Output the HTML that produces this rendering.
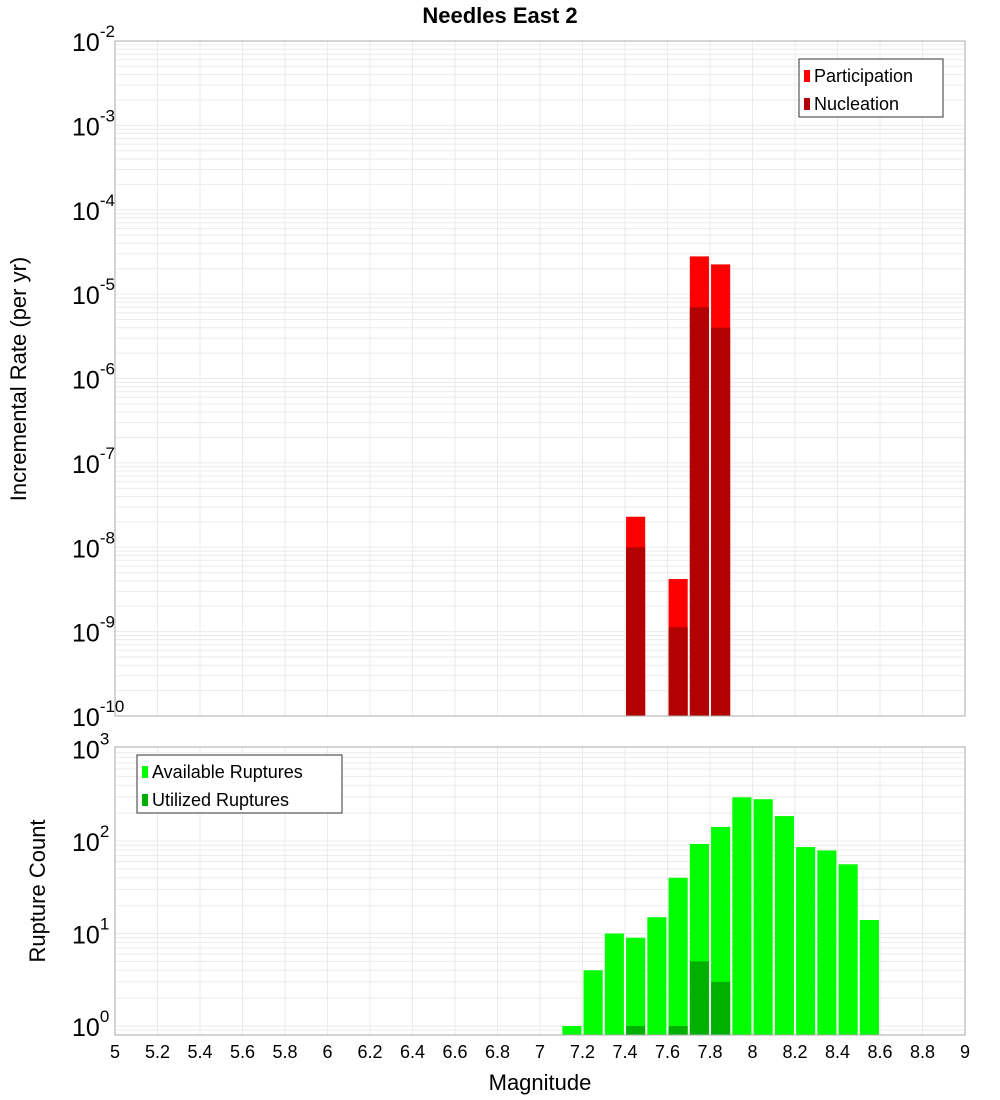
<!DOCTYPE html>
<html><head><meta charset="utf-8"><style>
body{margin:0;background:#fff;}
svg{display:block;font-family:"Liberation Sans","DejaVu Sans",sans-serif;}
</style></head><body>
<svg id="c" width="1000" height="1100" xmlns="http://www.w3.org/2000/svg"></svg>
<script>
const mags = [7.15,7.25,7.35,7.45,7.55,7.65,7.75,7.85,7.95,8.05,8.15,8.25,8.35,8.45,8.55];
const participation = [0,0,0,2.3e-8,0,4.2e-9,2.8e-5,2.25e-5,0,0,0,0,0,0,0];
const nucleation = [0,0,0,1.0e-8,0,1.13e-9,7.0e-6,4.0e-6,0,0,0,0,0,0,0];
const available = [1,4,10,9,15,40,93,142,297,283,186,86,79,56,14];
const utilized = [0,0,0,1,0,1,5,3,0,0,0,0,0,0,0];
const xTicks = ["5","5.2","5.4","5.6","5.8","6","6.2","6.4","6.6","6.8","7","7.2","7.4","7.6","7.8","8","8.2","8.4","8.6","8.8","9"];
const topExps = [-2,-3,-4,-5,-6,-7,-8,-9,-10];
const botExps = [3,2,1,0];

const NS="http://www.w3.org/2000/svg";
const svg=document.getElementById('c');
function mk(t,a,p){const e=document.createElementNS(NS,t);for(const k in a)e.setAttribute(k,a[k]);(p||svg).appendChild(e);return e;}
const X0=115,X1=965;
const xs=m=>X0+(m-5)/4*(X1-X0);
const T0=41,T1=716;
const yTop=v=>T0+(-2-Math.log10(v))*(T1-T0)/8;
const B0=747,B1=1035;
const yBot=v=>1026-Math.log10(v)*92.5;
const bw=0.09*(X1-X0)/4;

// title
let t=mk('text',{x:500,y:23,'text-anchor':'middle','font-size':22,'font-weight':'bold'});
t.textContent='Needles East 2';



function grid(y0,y1,ymap,lo,hi,name){
  const g=mk('g',{});
  
  
  for(let i=0;i<xTicks.length;i++){const x=xs(+xTicks[i]);mk('line',{x1:x,x2:x,y1:y0,y2:y1,stroke:'#ebebeb','stroke-width':1},g);}
  for(let d=lo;d<hi;d++)for(let k=1;k<10;k++){const y=ymap(k*Math.pow(10,d));if(y>=y0&&y<=y1)mk('line',{x1:X0,x2:X1,y1:y,y2:y,stroke:'#ebebeb','stroke-width':1},g);}
}
grid(T0,T1,yTop,-10,-2,'top-grid');
grid(B0,B1,yBot,-1,3,'bottom-grid');

// top bars
for(let i=0;i<mags.length;i++){
  const x=xs(mags[i])-bw/2;
  if(participation[i]>0){const r=mk('rect',{x:x,y:yTop(participation[i]),width:bw,height:T1-yTop(participation[i]),fill:'#ff0000'});
    
    }
  if(nucleation[i]>0){const r=mk('rect',{x:x,y:yTop(nucleation[i]),width:bw,height:T1-yTop(nucleation[i]),fill:'#b30000'});
    
    }
}
// bottom bars
for(let i=0;i<mags.length;i++){
  const x=xs(mags[i])-bw/2;
  if(available[i]>0){const r=mk('rect',{x:x,y:yBot(available[i]),width:bw,height:B1-yBot(available[i]),fill:'#00ff00'});
    
    }
  if(utilized[i]>0){const r=mk('rect',{x:x,y:yBot(utilized[i]),width:bw,height:B1-yBot(utilized[i]),fill:'#00b000'});
    
    }
}
// frames
let f=mk('rect',{x:X0,y:T0,width:X1-X0,height:T1-T0,fill:'none',stroke:'#aaa'});


f=mk('rect',{x:X0,y:B0,width:X1-X0,height:B1-B0,fill:'none',stroke:'#aaa'});



// y tick labels
function ylab(y,e,name){
  const tx=mk('text',{x:106,y:y+10,'text-anchor':'end','font-size':25});
  
  
  const a=document.createElementNS(NS,'tspan');a.textContent='10';tx.appendChild(a);
  const b=document.createElementNS(NS,'tspan');b.setAttribute('dy','-14');b.setAttribute('font-size','17');b.textContent=String(e);tx.appendChild(b);
  const bb=tx.getBBox();tx.setAttribute('x',72);tx.setAttribute('text-anchor','start');
}
topExps.forEach(e=>ylab(yTop(Math.pow(10,e)),e,'top-y-tick-label'));
botExps.forEach(e=>ylab(yBot(Math.pow(10,e)),e,'bottom-y-tick-label'));

// x ticks
xTicks.forEach(s=>{const tx=mk('text',{x:xs(+s),y:1058,'text-anchor':'middle','font-size':18});tx.textContent=s;
  
  });
t=mk('text',{x:540,y:1090,'text-anchor':'middle','font-size':22});t.textContent='Magnitude';


t=mk('text',{x:0,y:0,'text-anchor':'middle','font-size':22,transform:'translate(26,379) rotate(-90)'});t.textContent='Incremental Rate (per yr)';


t=mk('text',{x:0,y:0,'text-anchor':'middle','font-size':22,transform:'translate(45,891) rotate(-90)'});t.textContent='Rupture Count';



// legends
function legend(x,y,w,items,name){
  const g=mk('g',{});
  
  
  mk('rect',{x:x,y:y,width:w,height:58,fill:'#fff',stroke:'#333','stroke-width':1},g);
  items.forEach((it,i)=>{
    mk('rect',{x:x+5,y:y+11+i*28,width:6,height:12,fill:it[1]},g);
    const tx=mk('text',{x:x+15,y:y+23+i*28,'font-size':18},g);tx.textContent=it[0];
  });
}
legend(799,59,144,[['Participation','#ff0000'],['Nucleation','#b30000']],'top-legend');
legend(137,755,205,[['Available Ruptures','#00ff00'],['Utilized Ruptures','#00b000']],'bottom-legend');
</script>
</body></html>
